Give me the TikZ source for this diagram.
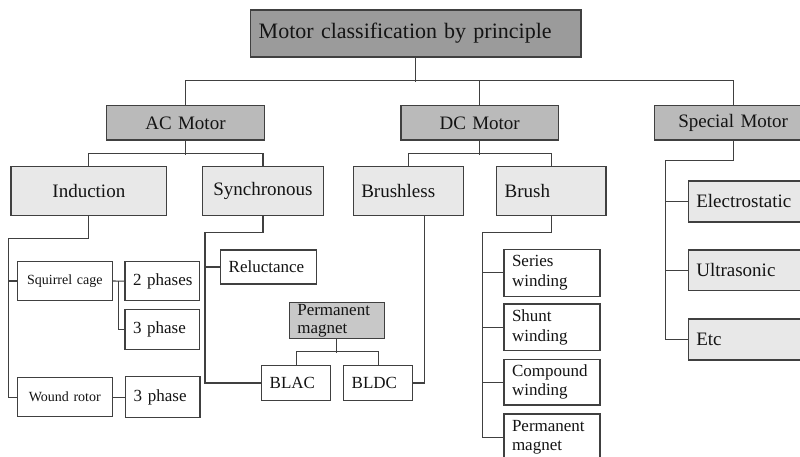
\documentclass[tikz,border=0pt]{standalone}
\usepackage{fontspec}
\setmainfont{Liberation Serif}
\usetikzlibrary{calc}
\definecolor{lvla}{HTML}{9B9B9B}
\definecolor{lvlb}{HTML}{BABABA}
\definecolor{lvlc}{HTML}{E8E8E8}
\definecolor{pmg}{HTML}{C8C8C8}
\definecolor{ln}{HTML}{404040}
\newcommand\mkbox[7]{%
  \pgfmathsetmacro\mbw{#4-#2}\pgfmathsetmacro\mbh{#5-#3}%
  \pgfmathsetmacro\mbx{(#2+#4)/2}\pgfmathsetmacro\mby{(#3+#5)/2}%
  \pgfmathsetmacro\mbt{#4-#2-16}%
  \node[bx,#6,minimum width=\mbw pt,minimum height=\mbh pt,text width=\mbt pt] (#1) at (\mbx,\mby) {#7};}
\tikzset{
  bx/.style={draw=ln, line width=1.1pt, inner xsep=0pt, inner ysep=0pt, text=black!92, align=left, fill=white},
  ctr/.style={align=center},
  fbig/.style={font=\fontsize{22}{24}\selectfont},
  fmain/.style={font=\fontsize{19}{21}\selectfont},
  fmid/.style={font=\fontsize{17}{19.3}\selectfont},
  fsmall/.style={font=\fontsize{14}{16}\selectfont},
  conn/.style={draw=ln, line width=1.1pt},
}
\begin{document}
\begin{tikzpicture}[x=1pt,y=-1pt]
\useasboundingbox (0,0) rectangle (800,457);
\fill[white] (0,0) rectangle (800,457);
\clip (0,0) rectangle (800,457);
% level 0
\mkbox{top}{250.7}{10}{581}{57}{fill=lvla,fbig}{Motor classification\hspace{7pt}by principle}
% level 1
\mkbox{ac}{106.7}{105.7}{264.3}{140}{fill=lvlb,fmain,ctr}{AC Motor}
\mkbox{dc}{401}{105.7}{558.3}{140}{fill=lvlb,fmain,ctr}{DC Motor}
\mkbox{sp}{654.3}{105.7}{812}{140}{fill=lvlb,fmain,ctr}{Special Motor}
% level 2
\mkbox{ind}{11}{166.7}{166.7}{215.3}{fill=lvlc,fmain,ctr}{Induction}
\mkbox{syn}{202.7}{166.7}{323.3}{215.3}{fill=lvlc,fmain,ctr}{Synchronous}
\mkbox{bl}{353.3}{166.7}{463.3}{215.3}{fill=lvlc,fmain}{Brushless}
\mkbox{br}{496.7}{166.7}{606}{215.3}{fill=lvlc,fmain}{Brush}
\mkbox{es}{688.3}{181}{812}{222}{fill=lvlc,fmain}{Electrostatic}
\mkbox{us}{688.3}{250}{812}{290.7}{fill=lvlc,fmain}{Ultrasonic}
\mkbox{etc}{688.3}{319}{812}{360}{fill=lvlc,fmain}{Etc}
% induction subtree
\mkbox{sq}{17.3}{261.7}{112.3}{300.3}{fsmall,ctr}{Squirrel cage}
\mkbox{wr}{17.3}{377.7}{112.3}{416.7}{fsmall,ctr}{Wound rotor}
\mkbox{phb}{125}{261.7}{199.3}{300.7}{fmid}{\mbox{2 phases}}
\mkbox{pha}{125}{309.3}{199.3}{349.7}{fmid}{3 phase}
\mkbox{phc}{125.7}{376.7}{200}{417.7}{fmid}{3 phase}
% synchronous subtree
\mkbox{rel}{220.7}{250}{316.7}{284}{fmid}{Reluctance}
\mkbox{pm}{289.3}{302.3}{384.3}{338.7}{fill=pmg,font=\fontsize{17}{18.3}\selectfont}{Permanent\\magnet}
\mkbox{blac}{261.7}{365.7}{330.7}{400.3}{fmid}{BLAC}
\mkbox{bldc}{343.7}{365.7}{412.7}{400.3}{fmid}{BLDC}
% brush subtree
\mkbox{sw}{504}{249.3}{600}{296.3}{fmid}{Series\\winding}
\mkbox{shw}{504}{304}{600}{350.7}{fmid}{Shunt\\winding}
\mkbox{cw}{504}{359.3}{600}{405}{fmid}{Compound\\winding}
\mkbox{pmd}{504}{414}{600}{461}{fmid}{Permanent\\magnet}
% junction coordinates
\coordinate (spv) at (665.7,160.7);
\coordinate (indv) at (8.3,238.3);
\coordinate (sqv) at (118.3,281);
\coordinate (synv) at (205,232.7);
\coordinate (blx) at (424.3,215.3);
\coordinate (brv) at (482.3,232.3);
% connectors level 0-1
\draw[conn] (top.south) -- ++(0,24);
\draw[conn] (ac.north) -- ++(0,-24.7) -| (sp.north);
\draw[conn] (dc.north) -- ++(0,-24.7);
% level 1-2
\draw[conn] (ac.south) -- ++(0,14);
\draw[conn] (ind.north) -- ++(0,-12.7) -| (syn.north);
\draw[conn] (dc.south) -- ++(0,14);
\draw[conn] (bl.north) -- ++(0,-12.7) -| (br.north);
\draw[conn] (sp.south) |- (spv) -- (spv |- etc.west) -- (etc.west);
\draw[conn] (spv |- es.west) -- (es.west);
\draw[conn] (spv |- us.west) -- (us.west);
% induction
\draw[conn] (ind.south) |- (indv) -- (indv |- wr.west) -- (wr.west);
\draw[conn] (indv |- sq.west) -- (sq.west);
\draw[conn] (sq.east) -- (phb.west);
\draw[conn] (sqv) -- (sqv |- pha.west) -- (pha.west);
\draw[conn] (wr.east) -- (phc.west);
% synchronous
\draw[conn] (syn.south) |- (synv) -- (synv |- blac.west) -- (blac.west);
\draw[conn] (synv |- rel.west) -- (rel.west);
\draw[conn] (pm.south) -- ++(0,13.6);
\draw[conn] (blac.north) -- ++(0,-13.4) -| (bldc.north);
% brushless
\draw[conn] (blx) |- (bldc.east);
% brush
\draw[conn] (br.south) |- (brv) -- (brv |- pmd.west) -- (pmd.west);
\draw[conn] (brv |- sw.west) -- (sw.west);
\draw[conn] (brv |- shw.west) -- (shw.west);
\draw[conn] (brv |- cw.west) -- (cw.west);
\end{tikzpicture}
\end{document}
